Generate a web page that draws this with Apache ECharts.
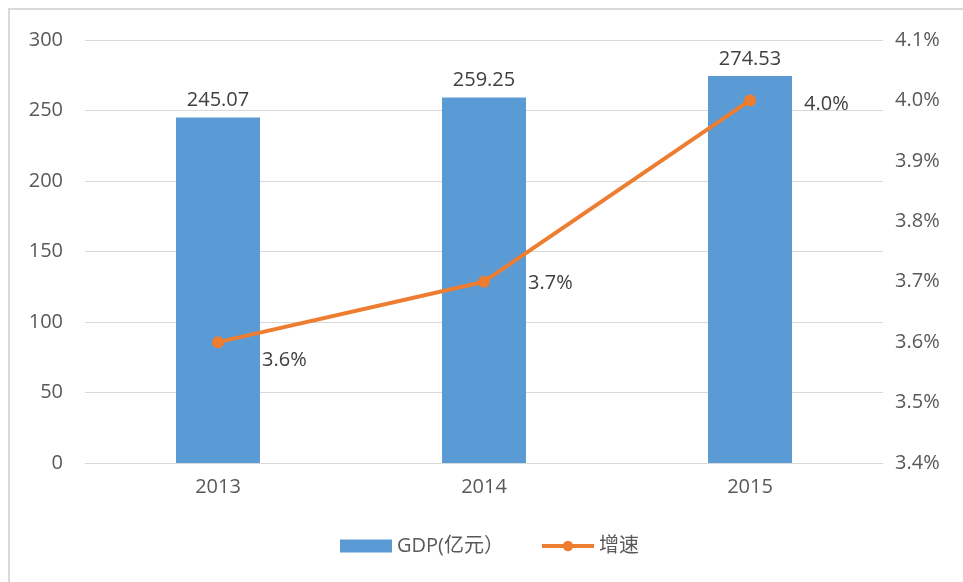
<!DOCTYPE html>
<html>
<head>
<meta charset="utf-8">
<script src="https://cdn.jsdelivr.net/npm/echarts@6/dist/echarts.min.js"></script>
<style>
  html, body { margin: 0; padding: 0; background: #fff; }
  #frame {
    position: absolute; left: 8px; top: 8px; width: 963px; height: 582px;
    border-left: 2px solid #d9d9d9; border-top: 2px solid #d9d9d9;
  }
  #chart { position: absolute; left: 0; top: 0; width: 963px; height: 582px; }
</style>
</head>
<body>
<div id="frame"></div>
<div id="chart"></div>
<script>
const years = ["2013", "2014", "2015"];
const gdp = [245.07, 259.25, 274.53];
const growth = [3.6, 3.7, 4.0];
const growthLabelOffsets = [[0, 18], [0, 2], [10, 4]];

const font = '"Open Sans", "Noto Sans CJK SC", sans-serif';
const chart = echarts.init(document.getElementById("chart"));

chart.setOption({
  backgroundColor: "transparent",
  textStyle: { fontFamily: font },
  animation: false,
  grid: { left: 85, right: 80, top: 40, bottom: 119 },
  legend: {
    bottom: 21,
    left: 335,
    itemWidth: 52,
    itemHeight: 13,
    itemGap: 36,
    textStyle: { fontSize: 20, color: "#595959", fontFamily: font },
    data: [
      { name: "GDP(亿元）", icon: "rect" },
      { name: "增速", lineStyle: { width: 4 } }
    ]
  },
  xAxis: {
    type: "category",
    data: years,
    axisLine: { lineStyle: { color: "#d9d9d9" } },
    axisTick: { show: false },
    axisLabel: { color: "#595959", fontSize: 20, margin: 14 }
  },
  yAxis: [
    {
      type: "value",
      min: 0, max: 300, interval: 50,
      axisLine: { show: false },
      axisTick: { show: false },
      axisLabel: { color: "#595959", fontSize: 20, margin: 22 },
      splitLine: { lineStyle: { color: "#d9d9d9" } }
    },
    {
      type: "value",
      min: 3.4, max: 4.1, interval: 0.1,
      axisLine: { show: false },
      axisTick: { show: false },
      splitLine: { show: false },
      axisLabel: {
        color: "#595959", fontSize: 20, margin: 12,
        formatter: (v) => v.toFixed(1) + "%"
      }
    }
  ],
  series: [
    {
      name: "GDP(亿元）",
      type: "bar",
      barWidth: 84,
      itemStyle: { color: "#5b9bd5" },
      label: {
        show: true, position: "top", distance: 7,
        color: "#404040", fontSize: 20,
        formatter: (p) => p.value.toFixed(2)
      },
      data: gdp
    },
    {
      name: "增速",
      type: "line",
      yAxisIndex: 1,
      symbol: "circle",
      symbolSize: 12,
      itemStyle: { color: "#ed7d31" },
      lineStyle: { color: "#ed7d31", width: 4 },
      label: {
        show: true, position: "right", distance: 38,
        color: "#404040", fontSize: 20,
        formatter: (p) => p.value.toFixed(1) + "%"
      },
      data: growth.map((v, i) => ({
        value: v,
        label: { offset: growthLabelOffsets[i] }
      }))
    }
  ]
});
</script>
</body>
</html>
